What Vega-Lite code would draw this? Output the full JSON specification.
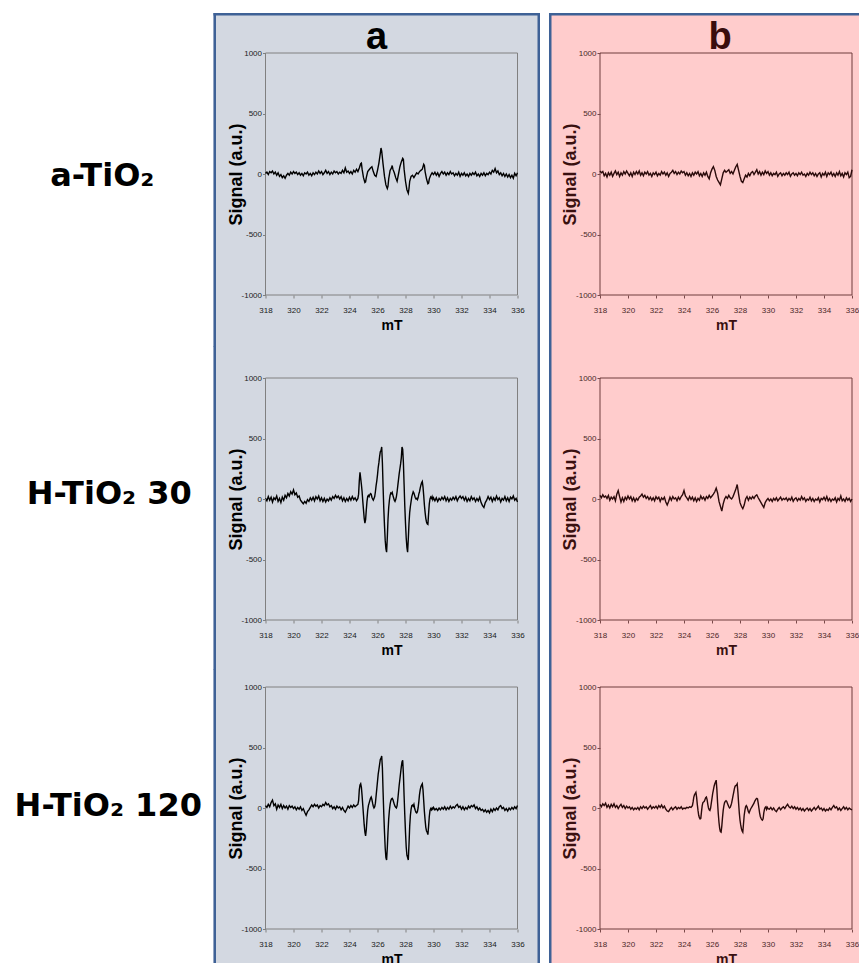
{
"$schema": "https://vega.github.io/schema/vega-lite/v6.json",
"background": "#ffffff",
"padding": {"left": 0, "top": 12, "right": 0, "bottom": 0},
"config": {
  "view": {"stroke": null},
  "axis": {"zindex": 1, "domain": false, "grid": false, "labelFont": "Liberation Sans", "labelFontSize": 8, "tickSize": 3, "labelFlush": false, "labelOverlap": false, "labelSeparation": 0, "titleFont": "Liberation Sans", "titleFontWeight": "bold"},
  "axisX": {"labelPadding": 8, "titleFontSize": 14, "titlePadding": 4, "labelOverlap": false},
  "axisY": {"labelPadding": 1, "titleFontSize": 18, "titlePadding": -4}
},
"datasets": {
"a1": [{"x":318,"y":5},{"x":318.1,"y":15},{"x":318.2,"y":-5},{"x":318.3,"y":20},{"x":318.4,"y":10},{"x":318.5,"y":25},{"x":318.6,"y":0},{"x":318.7,"y":15},{"x":318.8,"y":-10},{"x":318.9,"y":10},{"x":319,"y":-20},{"x":319.1,"y":-5},{"x":319.2,"y":-30},{"x":319.3,"y":-15},{"x":319.4,"y":-35},{"x":319.5,"y":-10},{"x":319.6,"y":5},{"x":319.7,"y":-10},{"x":319.8,"y":15},{"x":319.9,"y":0},{"x":320,"y":20},{"x":320.1,"y":5},{"x":320.2,"y":15},{"x":320.3,"y":-5},{"x":320.4,"y":10},{"x":320.5,"y":-10},{"x":320.6,"y":5},{"x":320.7,"y":-15},{"x":320.8,"y":10},{"x":320.9,"y":0},{"x":321,"y":15},{"x":321.1,"y":-10},{"x":321.2,"y":5},{"x":321.3,"y":-15},{"x":321.4,"y":10},{"x":321.5,"y":-5},{"x":321.6,"y":15},{"x":321.7,"y":0},{"x":321.8,"y":25},{"x":321.9,"y":5},{"x":322,"y":20},{"x":322.1,"y":-5},{"x":322.2,"y":10},{"x":322.3,"y":30},{"x":322.4,"y":5},{"x":322.5,"y":20},{"x":322.6,"y":-5},{"x":322.7,"y":15},{"x":322.8,"y":0},{"x":322.9,"y":25},{"x":323,"y":10},{"x":323.1,"y":20},{"x":323.2,"y":0},{"x":323.3,"y":15},{"x":323.4,"y":5},{"x":323.5,"y":30},{"x":323.6,"y":10},{"x":323.7,"y":50},{"x":323.8,"y":15},{"x":323.9,"y":25},{"x":324,"y":5},{"x":324.1,"y":20},{"x":324.2,"y":0},{"x":324.3,"y":30},{"x":324.4,"y":15},{"x":324.5,"y":40},{"x":324.6,"y":20},{"x":324.7,"y":50},{"x":324.8,"y":85},{"x":324.85,"y":90},{"x":324.9,"y":40},{"x":325,"y":-30},{"x":325.1,"y":-70},{"x":325.15,"y":-65},{"x":325.2,"y":-30},{"x":325.3,"y":20},{"x":325.4,"y":35},{"x":325.5,"y":50},{"x":325.6,"y":60},{"x":325.7,"y":20},{"x":325.8,"y":-10},{"x":325.9,"y":-20},{"x":326,"y":30},{"x":326.1,"y":90},{"x":326.2,"y":170},{"x":326.25,"y":215},{"x":326.3,"y":190},{"x":326.4,"y":80},{"x":326.5,"y":-20},{"x":326.6,"y":-90},{"x":326.7,"y":-120},{"x":326.75,"y":-100},{"x":326.8,"y":-40},{"x":326.9,"y":30},{"x":327,"y":50},{"x":327.05,"y":70},{"x":327.1,"y":40},{"x":327.2,"y":10},{"x":327.3,"y":-30},{"x":327.4,"y":-60},{"x":327.5,"y":0},{"x":327.6,"y":60},{"x":327.7,"y":100},{"x":327.8,"y":130},{"x":327.85,"y":120},{"x":327.9,"y":40},{"x":328,"y":-60},{"x":328.1,"y":-130},{"x":328.2,"y":-160},{"x":328.25,"y":-120},{"x":328.3,"y":-60},{"x":328.4,"y":-20},{"x":328.5,"y":-10},{"x":328.6,"y":-30},{"x":328.7,"y":-10},{"x":328.8,"y":10},{"x":328.9,"y":0},{"x":329,"y":20},{"x":329.1,"y":30},{"x":329.2,"y":40},{"x":329.3,"y":80},{"x":329.35,"y":70},{"x":329.4,"y":20},{"x":329.5,"y":-40},{"x":329.6,"y":-80},{"x":329.65,"y":-75},{"x":329.7,"y":-40},{"x":329.8,"y":-10},{"x":329.9,"y":10},{"x":330,"y":-5},{"x":330.1,"y":15},{"x":330.2,"y":-10},{"x":330.3,"y":10},{"x":330.4,"y":-20},{"x":330.5,"y":5},{"x":330.6,"y":20},{"x":330.7,"y":0},{"x":330.8,"y":15},{"x":330.9,"y":-10},{"x":331,"y":10},{"x":331.1,"y":-5},{"x":331.2,"y":20},{"x":331.3,"y":0},{"x":331.4,"y":10},{"x":331.5,"y":-15},{"x":331.6,"y":5},{"x":331.7,"y":-10},{"x":331.8,"y":15},{"x":331.9,"y":-20},{"x":332,"y":5},{"x":332.1,"y":-10},{"x":332.2,"y":10},{"x":332.3,"y":-15},{"x":332.4,"y":0},{"x":332.5,"y":-20},{"x":332.6,"y":5},{"x":332.7,"y":-10},{"x":332.8,"y":10},{"x":332.9,"y":-5},{"x":333,"y":15},{"x":333.1,"y":-15},{"x":333.2,"y":0},{"x":333.3,"y":-20},{"x":333.4,"y":5},{"x":333.5,"y":-10},{"x":333.6,"y":10},{"x":333.7,"y":-15},{"x":333.8,"y":5},{"x":333.9,"y":-5},{"x":334,"y":15},{"x":334.1,"y":0},{"x":334.2,"y":30},{"x":334.3,"y":15},{"x":334.4,"y":45},{"x":334.5,"y":10},{"x":334.6,"y":25},{"x":334.7,"y":-5},{"x":334.8,"y":10},{"x":334.9,"y":-15},{"x":335,"y":5},{"x":335.1,"y":-20},{"x":335.2,"y":0},{"x":335.3,"y":-25},{"x":335.4,"y":-5},{"x":335.5,"y":-30},{"x":335.6,"y":-10},{"x":335.7,"y":-35},{"x":335.8,"y":5},{"x":335.9,"y":-15},{"x":336,"y":10}],
"a2": [{"x":318,"y":5},{"x":318.1,"y":-15},{"x":318.2,"y":20},{"x":318.3,"y":-10},{"x":318.4,"y":15},{"x":318.5,"y":-25},{"x":318.6,"y":10},{"x":318.7,"y":-5},{"x":318.8,"y":25},{"x":318.9,"y":-20},{"x":319,"y":5},{"x":319.1,"y":-30},{"x":319.2,"y":15},{"x":319.3,"y":-10},{"x":319.4,"y":30},{"x":319.5,"y":10},{"x":319.6,"y":45},{"x":319.7,"y":25},{"x":319.8,"y":60},{"x":319.9,"y":40},{"x":320,"y":75},{"x":320.1,"y":35},{"x":320.2,"y":50},{"x":320.3,"y":15},{"x":320.4,"y":25},{"x":320.5,"y":-10},{"x":320.6,"y":-25},{"x":320.7,"y":-40},{"x":320.8,"y":-20},{"x":320.9,"y":-35},{"x":321,"y":-5},{"x":321.1,"y":-20},{"x":321.2,"y":10},{"x":321.3,"y":-10},{"x":321.4,"y":15},{"x":321.5,"y":-15},{"x":321.6,"y":20},{"x":321.7,"y":0},{"x":321.8,"y":25},{"x":321.9,"y":-15},{"x":322,"y":10},{"x":322.1,"y":-20},{"x":322.2,"y":5},{"x":322.3,"y":-25},{"x":322.4,"y":0},{"x":322.5,"y":-15},{"x":322.6,"y":10},{"x":322.7,"y":-10},{"x":322.8,"y":20},{"x":322.9,"y":5},{"x":323,"y":30},{"x":323.1,"y":10},{"x":323.2,"y":25},{"x":323.3,"y":0},{"x":323.4,"y":20},{"x":323.5,"y":-15},{"x":323.6,"y":10},{"x":323.7,"y":-20},{"x":323.8,"y":5},{"x":323.9,"y":-15},{"x":324,"y":15},{"x":324.1,"y":-10},{"x":324.2,"y":20},{"x":324.3,"y":-5},{"x":324.4,"y":10},{"x":324.5,"y":-15},{"x":324.6,"y":5},{"x":324.65,"y":40},{"x":324.7,"y":150},{"x":324.75,"y":220},{"x":324.8,"y":170},{"x":324.85,"y":120},{"x":324.9,"y":60},{"x":324.95,"y":-20},{"x":325,"y":-90},{"x":325.05,"y":-160},{"x":325.1,"y":-200},{"x":325.15,"y":-170},{"x":325.2,"y":-90},{"x":325.25,"y":-20},{"x":325.3,"y":20},{"x":325.35,"y":30},{"x":325.4,"y":20},{"x":325.45,"y":35},{"x":325.5,"y":45},{"x":325.55,"y":40},{"x":325.6,"y":15},{"x":325.65,"y":0},{"x":325.7,"y":-10},{"x":325.75,"y":5},{"x":325.8,"y":20},{"x":325.85,"y":60},{"x":325.9,"y":110},{"x":325.95,"y":150},{"x":326,"y":200},{"x":326.05,"y":260},{"x":326.1,"y":300},{"x":326.15,"y":350},{"x":326.2,"y":390},{"x":326.25,"y":400},{"x":326.3,"y":430},{"x":326.35,"y":300},{"x":326.4,"y":100},{"x":326.45,"y":-80},{"x":326.5,"y":-220},{"x":326.55,"y":-340},{"x":326.6,"y":-410},{"x":326.65,"y":-440},{"x":326.7,"y":-320},{"x":326.75,"y":-170},{"x":326.8,"y":-70},{"x":326.85,"y":-10},{"x":326.9,"y":30},{"x":326.95,"y":50},{"x":327,"y":45},{"x":327.05,"y":55},{"x":327.1,"y":30},{"x":327.15,"y":10},{"x":327.2,"y":-10},{"x":327.25,"y":-20},{"x":327.3,"y":-5},{"x":327.35,"y":20},{"x":327.4,"y":60},{"x":327.45,"y":110},{"x":327.5,"y":160},{"x":327.55,"y":210},{"x":327.6,"y":250},{"x":327.65,"y":290},{"x":327.7,"y":340},{"x":327.75,"y":430},{"x":327.8,"y":410},{"x":327.85,"y":300},{"x":327.9,"y":120},{"x":327.95,"y":-60},{"x":328,"y":-200},{"x":328.05,"y":-320},{"x":328.1,"y":-400},{"x":328.15,"y":-440},{"x":328.2,"y":-330},{"x":328.25,"y":-200},{"x":328.3,"y":-110},{"x":328.35,"y":-60},{"x":328.4,"y":-20},{"x":328.45,"y":20},{"x":328.5,"y":40},{"x":328.55,"y":60},{"x":328.6,"y":50},{"x":328.65,"y":30},{"x":328.7,"y":10},{"x":328.75,"y":0},{"x":328.8,"y":5},{"x":328.85,"y":-5},{"x":328.9,"y":10},{"x":328.95,"y":40},{"x":329,"y":60},{"x":329.05,"y":90},{"x":329.1,"y":115},{"x":329.15,"y":135},{"x":329.2,"y":145},{"x":329.25,"y":100},{"x":329.3,"y":30},{"x":329.35,"y":-50},{"x":329.4,"y":-110},{"x":329.45,"y":-160},{"x":329.5,"y":-190},{"x":329.55,"y":-205},{"x":329.6,"y":-210},{"x":329.65,"y":-120},{"x":329.7,"y":-40},{"x":329.75,"y":0},{"x":329.8,"y":15},{"x":329.85,"y":5},{"x":329.9,"y":20},{"x":329.95,"y":-5},{"x":330,"y":10},{"x":330.1,"y":-15},{"x":330.2,"y":10},{"x":330.3,"y":-20},{"x":330.4,"y":5},{"x":330.5,"y":-10},{"x":330.6,"y":15},{"x":330.7,"y":-5},{"x":330.8,"y":20},{"x":330.9,"y":-15},{"x":331,"y":10},{"x":331.1,"y":-20},{"x":331.2,"y":5},{"x":331.3,"y":-10},{"x":331.4,"y":15},{"x":331.5,"y":-5},{"x":331.6,"y":20},{"x":331.7,"y":-15},{"x":331.8,"y":10},{"x":331.9,"y":25},{"x":332,"y":5},{"x":332.1,"y":20},{"x":332.2,"y":-10},{"x":332.3,"y":15},{"x":332.4,"y":-20},{"x":332.5,"y":5},{"x":332.6,"y":-15},{"x":332.7,"y":20},{"x":332.8,"y":-5},{"x":332.9,"y":10},{"x":333,"y":-20},{"x":333.1,"y":5},{"x":333.2,"y":-15},{"x":333.3,"y":15},{"x":333.4,"y":-30},{"x":333.5,"y":-55},{"x":333.6,"y":-70},{"x":333.7,"y":-30},{"x":333.8,"y":-10},{"x":333.9,"y":20},{"x":334,"y":-5},{"x":334.1,"y":15},{"x":334.2,"y":-20},{"x":334.3,"y":10},{"x":334.4,"y":-10},{"x":334.5,"y":25},{"x":334.6,"y":-5},{"x":334.7,"y":10},{"x":334.8,"y":-25},{"x":334.9,"y":5},{"x":335,"y":-10},{"x":335.1,"y":20},{"x":335.2,"y":-15},{"x":335.3,"y":10},{"x":335.4,"y":-20},{"x":335.5,"y":15},{"x":335.6,"y":0},{"x":335.7,"y":25},{"x":335.8,"y":-10},{"x":335.9,"y":5},{"x":336,"y":-25}],
"a3": [{"x":318,"y":20},{"x":318.1,"y":5},{"x":318.2,"y":30},{"x":318.3,"y":10},{"x":318.4,"y":45},{"x":318.5,"y":65},{"x":318.6,"y":20},{"x":318.7,"y":35},{"x":318.8,"y":-10},{"x":318.9,"y":25},{"x":319,"y":5},{"x":319.1,"y":30},{"x":319.2,"y":-5},{"x":319.3,"y":20},{"x":319.4,"y":0},{"x":319.5,"y":15},{"x":319.6,"y":-10},{"x":319.7,"y":20},{"x":319.8,"y":5},{"x":319.9,"y":15},{"x":320,"y":-5},{"x":320.1,"y":10},{"x":320.2,"y":-15},{"x":320.3,"y":5},{"x":320.4,"y":-10},{"x":320.5,"y":10},{"x":320.6,"y":-20},{"x":320.7,"y":-5},{"x":320.8,"y":-35},{"x":320.9,"y":-60},{"x":321,"y":-30},{"x":321.1,"y":-15},{"x":321.2,"y":5},{"x":321.3,"y":25},{"x":321.4,"y":10},{"x":321.5,"y":30},{"x":321.6,"y":15},{"x":321.7,"y":25},{"x":321.8,"y":0},{"x":321.9,"y":20},{"x":322,"y":10},{"x":322.1,"y":30},{"x":322.2,"y":20},{"x":322.3,"y":45},{"x":322.4,"y":25},{"x":322.5,"y":35},{"x":322.6,"y":10},{"x":322.7,"y":20},{"x":322.8,"y":-5},{"x":322.9,"y":10},{"x":323,"y":-10},{"x":323.1,"y":15},{"x":323.2,"y":0},{"x":323.3,"y":10},{"x":323.4,"y":-15},{"x":323.5,"y":5},{"x":323.6,"y":-20},{"x":323.7,"y":-35},{"x":323.8,"y":-10},{"x":323.9,"y":15},{"x":324,"y":0},{"x":324.1,"y":20},{"x":324.2,"y":5},{"x":324.3,"y":25},{"x":324.4,"y":10},{"x":324.5,"y":20},{"x":324.6,"y":30},{"x":324.65,"y":60},{"x":324.7,"y":150},{"x":324.75,"y":190},{"x":324.8,"y":200},{"x":324.85,"y":170},{"x":324.9,"y":100},{"x":324.95,"y":20},{"x":325,"y":-60},{"x":325.05,"y":-140},{"x":325.1,"y":-200},{"x":325.15,"y":-230},{"x":325.2,"y":-180},{"x":325.25,"y":-90},{"x":325.3,"y":-20},{"x":325.35,"y":20},{"x":325.4,"y":40},{"x":325.45,"y":60},{"x":325.5,"y":80},{"x":325.55,"y":90},{"x":325.6,"y":70},{"x":325.65,"y":40},{"x":325.7,"y":15},{"x":325.75,"y":0},{"x":325.8,"y":10},{"x":325.85,"y":40},{"x":325.9,"y":100},{"x":325.95,"y":160},{"x":326,"y":220},{"x":326.05,"y":280},{"x":326.1,"y":320},{"x":326.15,"y":360},{"x":326.2,"y":400},{"x":326.25,"y":410},{"x":326.3,"y":430},{"x":326.35,"y":330},{"x":326.4,"y":130},{"x":326.45,"y":-50},{"x":326.5,"y":-200},{"x":326.55,"y":-330},{"x":326.6,"y":-410},{"x":326.65,"y":-430},{"x":326.7,"y":-330},{"x":326.75,"y":-200},{"x":326.8,"y":-90},{"x":326.85,"y":-20},{"x":326.9,"y":30},{"x":326.95,"y":60},{"x":327,"y":75},{"x":327.05,"y":80},{"x":327.1,"y":70},{"x":327.15,"y":50},{"x":327.2,"y":30},{"x":327.25,"y":15},{"x":327.3,"y":5},{"x":327.35,"y":0},{"x":327.4,"y":20},{"x":327.45,"y":70},{"x":327.5,"y":130},{"x":327.55,"y":190},{"x":327.6,"y":240},{"x":327.65,"y":290},{"x":327.7,"y":340},{"x":327.75,"y":380},{"x":327.8,"y":395},{"x":327.85,"y":280},{"x":327.9,"y":100},{"x":327.95,"y":-60},{"x":328,"y":-200},{"x":328.05,"y":-320},{"x":328.1,"y":-390},{"x":328.15,"y":-410},{"x":328.2,"y":-430},{"x":328.25,"y":-300},{"x":328.3,"y":-150},{"x":328.35,"y":-60},{"x":328.4,"y":-10},{"x":328.45,"y":20},{"x":328.5,"y":25},{"x":328.55,"y":15},{"x":328.6,"y":30},{"x":328.65,"y":0},{"x":328.7,"y":-20},{"x":328.75,"y":-35},{"x":328.8,"y":-40},{"x":328.85,"y":-30},{"x":328.9,"y":0},{"x":328.95,"y":50},{"x":329,"y":110},{"x":329.05,"y":150},{"x":329.1,"y":175},{"x":329.15,"y":190},{"x":329.2,"y":200},{"x":329.25,"y":150},{"x":329.3,"y":60},{"x":329.35,"y":-30},{"x":329.4,"y":-100},{"x":329.45,"y":-160},{"x":329.5,"y":-190},{"x":329.55,"y":-200},{"x":329.6,"y":-220},{"x":329.65,"y":-150},{"x":329.7,"y":-70},{"x":329.75,"y":-20},{"x":329.8,"y":-5},{"x":329.85,"y":-15},{"x":329.9,"y":0},{"x":329.95,"y":-10},{"x":330,"y":5},{"x":330.1,"y":-15},{"x":330.2,"y":-5},{"x":330.3,"y":-20},{"x":330.4,"y":0},{"x":330.5,"y":-15},{"x":330.6,"y":5},{"x":330.7,"y":-10},{"x":330.8,"y":10},{"x":330.9,"y":-15},{"x":331,"y":5},{"x":331.1,"y":-10},{"x":331.2,"y":15},{"x":331.3,"y":-5},{"x":331.4,"y":10},{"x":331.5,"y":0},{"x":331.6,"y":20},{"x":331.7,"y":30},{"x":331.8,"y":5},{"x":331.9,"y":15},{"x":332,"y":-10},{"x":332.1,"y":10},{"x":332.2,"y":-15},{"x":332.3,"y":5},{"x":332.4,"y":-10},{"x":332.5,"y":15},{"x":332.6,"y":0},{"x":332.7,"y":20},{"x":332.8,"y":10},{"x":332.9,"y":25},{"x":333,"y":-5},{"x":333.1,"y":10},{"x":333.2,"y":-15},{"x":333.3,"y":0},{"x":333.4,"y":-20},{"x":333.5,"y":-10},{"x":333.6,"y":-30},{"x":333.7,"y":-15},{"x":333.8,"y":-35},{"x":333.9,"y":-20},{"x":334,"y":-40},{"x":334.1,"y":-10},{"x":334.2,"y":-30},{"x":334.3,"y":-5},{"x":334.4,"y":-20},{"x":334.5,"y":0},{"x":334.6,"y":-15},{"x":334.7,"y":10},{"x":334.8,"y":20},{"x":334.9,"y":-5},{"x":335,"y":5},{"x":335.1,"y":-20},{"x":335.2,"y":-5},{"x":335.3,"y":-25},{"x":335.4,"y":0},{"x":335.5,"y":-15},{"x":335.6,"y":5},{"x":335.7,"y":-10},{"x":335.8,"y":10},{"x":335.9,"y":-5},{"x":336,"y":20}],
"b1": [{"x":318,"y":25},{"x":318.1,"y":10},{"x":318.2,"y":20},{"x":318.3,"y":-15},{"x":318.4,"y":5},{"x":318.5,"y":-25},{"x":318.6,"y":10},{"x":318.7,"y":-10},{"x":318.8,"y":15},{"x":318.9,"y":-20},{"x":319,"y":5},{"x":319.1,"y":25},{"x":319.2,"y":-5},{"x":319.3,"y":15},{"x":319.4,"y":-20},{"x":319.5,"y":10},{"x":319.6,"y":-10},{"x":319.7,"y":20},{"x":319.8,"y":0},{"x":319.9,"y":25},{"x":320,"y":5},{"x":320.1,"y":-15},{"x":320.2,"y":10},{"x":320.3,"y":-20},{"x":320.4,"y":15},{"x":320.5,"y":-5},{"x":320.6,"y":20},{"x":320.7,"y":0},{"x":320.8,"y":25},{"x":320.9,"y":-10},{"x":321,"y":10},{"x":321.1,"y":-15},{"x":321.2,"y":15},{"x":321.3,"y":0},{"x":321.4,"y":20},{"x":321.5,"y":-10},{"x":321.6,"y":5},{"x":321.7,"y":-20},{"x":321.8,"y":10},{"x":321.9,"y":-5},{"x":322,"y":15},{"x":322.1,"y":-15},{"x":322.2,"y":5},{"x":322.3,"y":-10},{"x":322.4,"y":20},{"x":322.5,"y":0},{"x":322.6,"y":15},{"x":322.7,"y":-10},{"x":322.8,"y":10},{"x":322.9,"y":-20},{"x":323,"y":5},{"x":323.1,"y":15},{"x":323.2,"y":30},{"x":323.3,"y":5},{"x":323.4,"y":20},{"x":323.5,"y":-5},{"x":323.6,"y":15},{"x":323.7,"y":0},{"x":323.8,"y":25},{"x":323.9,"y":10},{"x":324,"y":20},{"x":324.1,"y":-10},{"x":324.2,"y":10},{"x":324.3,"y":-15},{"x":324.4,"y":5},{"x":324.5,"y":-20},{"x":324.6,"y":10},{"x":324.7,"y":-10},{"x":324.8,"y":15},{"x":324.9,"y":0},{"x":325,"y":20},{"x":325.1,"y":-15},{"x":325.2,"y":5},{"x":325.3,"y":-20},{"x":325.4,"y":10},{"x":325.5,"y":-10},{"x":325.6,"y":15},{"x":325.7,"y":-20},{"x":325.8,"y":-40},{"x":325.9,"y":10},{"x":326,"y":40},{"x":326.1,"y":60},{"x":326.2,"y":30},{"x":326.3,"y":-20},{"x":326.4,"y":-50},{"x":326.5,"y":-70},{"x":326.6,"y":-90},{"x":326.7,"y":-40},{"x":326.8,"y":10},{"x":326.9,"y":30},{"x":327,"y":15},{"x":327.1,"y":25},{"x":327.2,"y":35},{"x":327.3,"y":5},{"x":327.4,"y":20},{"x":327.5,"y":0},{"x":327.6,"y":30},{"x":327.7,"y":60},{"x":327.8,"y":80},{"x":327.9,"y":30},{"x":328,"y":-20},{"x":328.1,"y":-60},{"x":328.2,"y":-70},{"x":328.3,"y":-40},{"x":328.4,"y":-10},{"x":328.5,"y":-25},{"x":328.6,"y":5},{"x":328.7,"y":-15},{"x":328.8,"y":10},{"x":328.9,"y":20},{"x":329,"y":-5},{"x":329.1,"y":15},{"x":329.2,"y":35},{"x":329.3,"y":0},{"x":329.4,"y":20},{"x":329.5,"y":-10},{"x":329.6,"y":15},{"x":329.7,"y":-5},{"x":329.8,"y":25},{"x":329.9,"y":5},{"x":330,"y":20},{"x":330.1,"y":-10},{"x":330.2,"y":10},{"x":330.3,"y":-15},{"x":330.4,"y":5},{"x":330.5,"y":-5},{"x":330.6,"y":15},{"x":330.7,"y":-20},{"x":330.8,"y":0},{"x":330.9,"y":10},{"x":331,"y":-15},{"x":331.1,"y":5},{"x":331.2,"y":-10},{"x":331.3,"y":10},{"x":331.4,"y":-5},{"x":331.5,"y":15},{"x":331.6,"y":-20},{"x":331.7,"y":0},{"x":331.8,"y":10},{"x":331.9,"y":-10},{"x":332,"y":5},{"x":332.1,"y":-15},{"x":332.2,"y":10},{"x":332.3,"y":-5},{"x":332.4,"y":15},{"x":332.5,"y":-10},{"x":332.6,"y":0},{"x":332.7,"y":-20},{"x":332.8,"y":5},{"x":332.9,"y":-10},{"x":333,"y":15},{"x":333.1,"y":-5},{"x":333.2,"y":10},{"x":333.3,"y":-15},{"x":333.4,"y":5},{"x":333.5,"y":-20},{"x":333.6,"y":0},{"x":333.7,"y":10},{"x":333.8,"y":-25},{"x":333.9,"y":5},{"x":334,"y":-10},{"x":334.1,"y":15},{"x":334.2,"y":-20},{"x":334.3,"y":10},{"x":334.4,"y":-5},{"x":334.5,"y":15},{"x":334.6,"y":-15},{"x":334.7,"y":5},{"x":334.8,"y":-20},{"x":334.9,"y":10},{"x":335,"y":-10},{"x":335.1,"y":20},{"x":335.2,"y":-15},{"x":335.3,"y":5},{"x":335.4,"y":-25},{"x":335.5,"y":10},{"x":335.6,"y":-5},{"x":335.7,"y":15},{"x":335.8,"y":-30},{"x":335.9,"y":-20},{"x":336,"y":35}],
"b2": [{"x":318,"y":30},{"x":318.1,"y":10},{"x":318.2,"y":35},{"x":318.3,"y":15},{"x":318.4,"y":25},{"x":318.5,"y":5},{"x":318.6,"y":30},{"x":318.7,"y":-10},{"x":318.8,"y":15},{"x":318.9,"y":0},{"x":319,"y":20},{"x":319.1,"y":-15},{"x":319.2,"y":40},{"x":319.3,"y":70},{"x":319.4,"y":20},{"x":319.5,"y":-25},{"x":319.6,"y":10},{"x":319.7,"y":-20},{"x":319.8,"y":15},{"x":319.9,"y":-5},{"x":320,"y":25},{"x":320.1,"y":0},{"x":320.2,"y":20},{"x":320.3,"y":-15},{"x":320.4,"y":10},{"x":320.5,"y":-20},{"x":320.6,"y":5},{"x":320.7,"y":-10},{"x":320.8,"y":15},{"x":320.9,"y":25},{"x":321,"y":40},{"x":321.1,"y":15},{"x":321.2,"y":30},{"x":321.3,"y":5},{"x":321.4,"y":20},{"x":321.5,"y":-5},{"x":321.6,"y":15},{"x":321.7,"y":-10},{"x":321.8,"y":10},{"x":321.9,"y":-15},{"x":322,"y":20},{"x":322.1,"y":0},{"x":322.2,"y":15},{"x":322.3,"y":-20},{"x":322.4,"y":10},{"x":322.5,"y":-5},{"x":322.6,"y":15},{"x":322.7,"y":-25},{"x":322.8,"y":-50},{"x":322.9,"y":-20},{"x":323,"y":15},{"x":323.1,"y":-10},{"x":323.2,"y":20},{"x":323.3,"y":0},{"x":323.4,"y":10},{"x":323.5,"y":-15},{"x":323.6,"y":15},{"x":323.7,"y":-5},{"x":323.8,"y":20},{"x":323.9,"y":35},{"x":324,"y":70},{"x":324.1,"y":25},{"x":324.2,"y":10},{"x":324.3,"y":-10},{"x":324.4,"y":20},{"x":324.5,"y":-5},{"x":324.6,"y":15},{"x":324.7,"y":-15},{"x":324.8,"y":10},{"x":324.9,"y":-20},{"x":325,"y":5},{"x":325.1,"y":-10},{"x":325.2,"y":25},{"x":325.3,"y":0},{"x":325.4,"y":15},{"x":325.5,"y":-10},{"x":325.6,"y":20},{"x":325.7,"y":5},{"x":325.8,"y":30},{"x":325.9,"y":10},{"x":326,"y":25},{"x":326.1,"y":40},{"x":326.2,"y":60},{"x":326.3,"y":90},{"x":326.4,"y":50},{"x":326.5,"y":-20},{"x":326.6,"y":-60},{"x":326.7,"y":-100},{"x":326.8,"y":-40},{"x":326.9,"y":0},{"x":327,"y":20},{"x":327.1,"y":5},{"x":327.2,"y":30},{"x":327.3,"y":10},{"x":327.4,"y":0},{"x":327.5,"y":20},{"x":327.6,"y":50},{"x":327.7,"y":80},{"x":327.8,"y":120},{"x":327.9,"y":40},{"x":328,"y":-30},{"x":328.1,"y":-60},{"x":328.2,"y":-80},{"x":328.3,"y":-50},{"x":328.4,"y":0},{"x":328.5,"y":20},{"x":328.6,"y":-10},{"x":328.7,"y":15},{"x":328.8,"y":0},{"x":328.9,"y":20},{"x":329,"y":5},{"x":329.1,"y":25},{"x":329.2,"y":35},{"x":329.3,"y":10},{"x":329.4,"y":-10},{"x":329.5,"y":-30},{"x":329.6,"y":-50},{"x":329.7,"y":-70},{"x":329.8,"y":-30},{"x":329.9,"y":-10},{"x":330,"y":5},{"x":330.1,"y":-15},{"x":330.2,"y":0},{"x":330.3,"y":-20},{"x":330.4,"y":5},{"x":330.5,"y":-10},{"x":330.6,"y":10},{"x":330.7,"y":-15},{"x":330.8,"y":0},{"x":330.9,"y":15},{"x":331,"y":-10},{"x":331.1,"y":5},{"x":331.2,"y":-5},{"x":331.3,"y":10},{"x":331.4,"y":-15},{"x":331.5,"y":5},{"x":331.6,"y":-10},{"x":331.7,"y":15},{"x":331.8,"y":-20},{"x":331.9,"y":0},{"x":332,"y":10},{"x":332.1,"y":-15},{"x":332.2,"y":5},{"x":332.3,"y":-10},{"x":332.4,"y":20},{"x":332.5,"y":-5},{"x":332.6,"y":10},{"x":332.7,"y":-20},{"x":332.8,"y":0},{"x":332.9,"y":-10},{"x":333,"y":15},{"x":333.1,"y":-15},{"x":333.2,"y":5},{"x":333.3,"y":-20},{"x":333.4,"y":0},{"x":333.5,"y":-10},{"x":333.6,"y":10},{"x":333.7,"y":-25},{"x":333.8,"y":5},{"x":333.9,"y":-5},{"x":334,"y":15},{"x":334.1,"y":-10},{"x":334.2,"y":20},{"x":334.3,"y":-15},{"x":334.4,"y":5},{"x":334.5,"y":-20},{"x":334.6,"y":0},{"x":334.7,"y":-10},{"x":334.8,"y":10},{"x":334.9,"y":-25},{"x":335,"y":5},{"x":335.1,"y":-10},{"x":335.2,"y":25},{"x":335.3,"y":-15},{"x":335.4,"y":0},{"x":335.5,"y":-20},{"x":335.6,"y":10},{"x":335.7,"y":-10},{"x":335.8,"y":5},{"x":335.9,"y":-20},{"x":336,"y":0}],
"b3": [{"x":318,"y":30},{"x":318.1,"y":10},{"x":318.2,"y":35},{"x":318.3,"y":20},{"x":318.4,"y":40},{"x":318.5,"y":5},{"x":318.6,"y":25},{"x":318.7,"y":0},{"x":318.8,"y":30},{"x":318.9,"y":10},{"x":319,"y":35},{"x":319.1,"y":5},{"x":319.2,"y":20},{"x":319.3,"y":-5},{"x":319.4,"y":15},{"x":319.5,"y":30},{"x":319.6,"y":5},{"x":319.7,"y":20},{"x":319.8,"y":-5},{"x":319.9,"y":15},{"x":320,"y":0},{"x":320.1,"y":10},{"x":320.2,"y":-10},{"x":320.3,"y":5},{"x":320.4,"y":-15},{"x":320.5,"y":0},{"x":320.6,"y":-10},{"x":320.7,"y":5},{"x":320.8,"y":-15},{"x":320.9,"y":10},{"x":321,"y":-5},{"x":321.1,"y":15},{"x":321.2,"y":0},{"x":321.3,"y":10},{"x":321.4,"y":-10},{"x":321.5,"y":5},{"x":321.6,"y":20},{"x":321.7,"y":-5},{"x":321.8,"y":10},{"x":321.9,"y":0},{"x":322,"y":15},{"x":322.1,"y":-5},{"x":322.2,"y":20},{"x":322.3,"y":5},{"x":322.4,"y":25},{"x":322.5,"y":0},{"x":322.6,"y":15},{"x":322.7,"y":-10},{"x":322.8,"y":-25},{"x":322.9,"y":-30},{"x":323,"y":-10},{"x":323.1,"y":5},{"x":323.2,"y":-15},{"x":323.3,"y":0},{"x":323.4,"y":10},{"x":323.5,"y":-10},{"x":323.6,"y":5},{"x":323.7,"y":-5},{"x":323.8,"y":10},{"x":323.9,"y":-10},{"x":324,"y":0},{"x":324.1,"y":-5},{"x":324.2,"y":5},{"x":324.3,"y":0},{"x":324.4,"y":10},{"x":324.5,"y":5},{"x":324.6,"y":20},{"x":324.65,"y":50},{"x":324.7,"y":90},{"x":324.75,"y":110},{"x":324.8,"y":120},{"x":324.85,"y":130},{"x":324.9,"y":90},{"x":324.95,"y":30},{"x":325,"y":-20},{"x":325.05,"y":-60},{"x":325.1,"y":-80},{"x":325.15,"y":-90},{"x":325.2,"y":-85},{"x":325.25,"y":-30},{"x":325.3,"y":20},{"x":325.35,"y":45},{"x":325.4,"y":50},{"x":325.45,"y":55},{"x":325.5,"y":70},{"x":325.55,"y":85},{"x":325.6,"y":90},{"x":325.65,"y":70},{"x":325.7,"y":30},{"x":325.75,"y":0},{"x":325.8,"y":-15},{"x":325.85,"y":-20},{"x":325.9,"y":0},{"x":325.95,"y":40},{"x":326,"y":80},{"x":326.05,"y":120},{"x":326.1,"y":150},{"x":326.15,"y":180},{"x":326.2,"y":200},{"x":326.25,"y":215},{"x":326.3,"y":230},{"x":326.35,"y":150},{"x":326.4,"y":40},{"x":326.45,"y":-50},{"x":326.5,"y":-120},{"x":326.55,"y":-170},{"x":326.6,"y":-195},{"x":326.65,"y":-200},{"x":326.7,"y":-150},{"x":326.75,"y":-80},{"x":326.8,"y":-20},{"x":326.85,"y":20},{"x":326.9,"y":45},{"x":326.95,"y":55},{"x":327,"y":60},{"x":327.05,"y":55},{"x":327.1,"y":40},{"x":327.15,"y":25},{"x":327.2,"y":10},{"x":327.25,"y":0},{"x":327.3,"y":5},{"x":327.35,"y":20},{"x":327.4,"y":40},{"x":327.45,"y":70},{"x":327.5,"y":100},{"x":327.55,"y":130},{"x":327.6,"y":160},{"x":327.65,"y":180},{"x":327.7,"y":185},{"x":327.75,"y":190},{"x":327.8,"y":200},{"x":327.85,"y":130},{"x":327.9,"y":40},{"x":327.95,"y":-40},{"x":328,"y":-100},{"x":328.05,"y":-140},{"x":328.1,"y":-170},{"x":328.15,"y":-190},{"x":328.2,"y":-200},{"x":328.25,"y":-130},{"x":328.3,"y":-60},{"x":328.35,"y":-20},{"x":328.4,"y":10},{"x":328.45,"y":20},{"x":328.5,"y":10},{"x":328.55,"y":-10},{"x":328.6,"y":-30},{"x":328.65,"y":-40},{"x":328.7,"y":-25},{"x":328.75,"y":-10},{"x":328.8,"y":0},{"x":328.85,"y":10},{"x":328.9,"y":20},{"x":328.95,"y":30},{"x":329,"y":40},{"x":329.05,"y":55},{"x":329.1,"y":65},{"x":329.15,"y":75},{"x":329.2,"y":80},{"x":329.25,"y":75},{"x":329.3,"y":40},{"x":329.35,"y":0},{"x":329.4,"y":-40},{"x":329.45,"y":-70},{"x":329.5,"y":-85},{"x":329.55,"y":-95},{"x":329.6,"y":-100},{"x":329.65,"y":-90},{"x":329.7,"y":-40},{"x":329.75,"y":-10},{"x":329.8,"y":5},{"x":329.85,"y":10},{"x":329.9,"y":-10},{"x":329.95,"y":5},{"x":330,"y":-5},{"x":330.1,"y":-10},{"x":330.2,"y":5},{"x":330.3,"y":-15},{"x":330.4,"y":0},{"x":330.5,"y":-20},{"x":330.6,"y":-30},{"x":330.7,"y":-10},{"x":330.8,"y":5},{"x":330.9,"y":-15},{"x":331,"y":0},{"x":331.1,"y":10},{"x":331.2,"y":-5},{"x":331.3,"y":15},{"x":331.4,"y":30},{"x":331.5,"y":10},{"x":331.6,"y":0},{"x":331.7,"y":15},{"x":331.8,"y":-5},{"x":331.9,"y":10},{"x":332,"y":-10},{"x":332.1,"y":5},{"x":332.2,"y":-15},{"x":332.3,"y":0},{"x":332.4,"y":-20},{"x":332.5,"y":-5},{"x":332.6,"y":-25},{"x":332.7,"y":-10},{"x":332.8,"y":0},{"x":332.9,"y":-20},{"x":333,"y":-5},{"x":333.1,"y":-25},{"x":333.2,"y":-10},{"x":333.3,"y":5},{"x":333.4,"y":-15},{"x":333.5,"y":0},{"x":333.6,"y":15},{"x":333.7,"y":-10},{"x":333.8,"y":0},{"x":333.9,"y":-20},{"x":334,"y":-5},{"x":334.1,"y":-25},{"x":334.2,"y":-10},{"x":334.3,"y":-20},{"x":334.4,"y":0},{"x":334.5,"y":-15},{"x":334.6,"y":5},{"x":334.7,"y":20},{"x":334.8,"y":0},{"x":334.9,"y":10},{"x":335,"y":-15},{"x":335.1,"y":0},{"x":335.2,"y":-20},{"x":335.3,"y":-5},{"x":335.4,"y":10},{"x":335.5,"y":-10},{"x":335.6,"y":5},{"x":335.7,"y":-15},{"x":335.8,"y":0},{"x":335.9,"y":-10},{"x":336,"y":-15}]
},
"vconcat": [
 {"hconcat": [
  {"width": 204.5, "height": 242, "data": {"values": [{}]}, "mark": {"type": "text", "text": "a-TiO₂", "font": "DejaVu Sans", "fontSize": 32, "fontWeight": "bold", "align": "center", "baseline": "alphabetic", "dy": 12, "color": "#000000"}, "encoding": {}},
  {"width": 252, "height": 242, "layer": [
   {"data": {"values": [{}]}, "mark": {"type": "rect", "color": "#d3d8e1", "clip": false}, "encoding": {"x": {"datum": 314.2857, "type": "quantitative", "scale": {"domain": [318, 336], "nice": false, "zero": false}}, "x2": {"datum": 337.6071}, "y": {"datum": 1330.58, "type": "quantitative", "scale": {"domain": [-1000, 1000], "nice": false, "zero": false}}, "y2": {"datum": -1429.75}}},
   {"data": {"values": [{}]}, "mark": {"type": "rect", "color": "#3e6196", "clip": false}, "encoding": {"x": {"datum": 314.2857, "type": "quantitative"}, "x2": {"datum": 314.4643}, "y": {"datum": 1330.58, "type": "quantitative"}, "y2": {"datum": -1429.75}}},
   {"data": {"values": [{}]}, "mark": {"type": "rect", "color": "#3e6196", "clip": false}, "encoding": {"x": {"datum": 337.4286, "type": "quantitative"}, "x2": {"datum": 337.6071}, "y": {"datum": 1330.58, "type": "quantitative"}, "y2": {"datum": -1429.75}}},
   {"data": {"values": [{}]}, "mark": {"type": "rect", "color": "#3e6196", "clip": false}, "encoding": {"x": {"datum": 314.2857, "type": "quantitative"}, "x2": {"datum": 337.6071}, "y": {"datum": 1330.58, "type": "quantitative"}, "y2": {"datum": 1309.92}}},
   {"data": {"values": [{}]}, "mark": {"type": "rect", "filled": false, "color": "#808080", "strokeWidth": 1}, "encoding": {"x": {"datum": 318, "type": "quantitative"}, "x2": {"datum": 336}, "y": {"datum": -1000, "type": "quantitative"}, "y2": {"datum": 1000}}},
   {"data": {"name": "a1"}, "mark": {"type": "line", "color": "#000000", "strokeWidth": 1.4}, "encoding": {"x": {"field": "x", "type": "quantitative", "scale": {"domain": [318, 336], "nice": false, "zero": false}, "axis": {"zindex": 1, "labelOverlap": false, "tickCount": 10, "format": "d", "title": "mT", "labelColor": "#1a1a1a", "tickColor": "#808080", "titleColor": "#000000"}}, "y": {"field": "y", "type": "quantitative", "scale": {"domain": [-1000, 1000], "nice": false, "zero": false}, "axis": {"zindex": 1, "labelOverlap": false, "labelExpr": "'' + datum.value", "values": [-1000, -500, 0, 500, 1000], "title": "Signal (a.u.)", "labelColor": "#1a1a1a", "tickColor": "#808080", "titleColor": "#000000"}}}},
   {"data": {"values": [{}]}, "mark": {"type": "text", "text": "a", "font": "Liberation Sans", "fontSize": 38, "fontWeight": "bold", "align": "center", "baseline": "alphabetic", "color": "#000000"}, "encoding": {"x": {"datum": 325.9286, "type": "quantitative"}, "y": {"datum": 1028.93, "type": "quantitative"}}}
  ]},
  {"width": 252, "height": 242, "layer": [
   {"data": {"values": [{}]}, "mark": {"type": "rect", "color": "#ffcccc", "clip": false}, "encoding": {"x": {"datum": 314.3571, "type": "quantitative", "scale": {"domain": [318, 336], "nice": false, "zero": false}}, "x2": {"datum": 341}, "y": {"datum": 1330.58, "type": "quantitative", "scale": {"domain": [-1000, 1000], "nice": false, "zero": false}}, "y2": {"datum": -1429.75}}},
   {"data": {"values": [{}]}, "mark": {"type": "rect", "color": "#3e6196", "clip": false}, "encoding": {"x": {"datum": 314.3571, "type": "quantitative"}, "x2": {"datum": 314.5357}, "y": {"datum": 1330.58, "type": "quantitative"}, "y2": {"datum": -1429.75}}},
   {"data": {"values": [{}]}, "mark": {"type": "rect", "color": "#3e6196", "clip": false}, "encoding": {"x": {"datum": 314.3571, "type": "quantitative"}, "x2": {"datum": 341}, "y": {"datum": 1330.58, "type": "quantitative"}, "y2": {"datum": 1309.92}}},
   {"data": {"values": [{}]}, "mark": {"type": "rect", "filled": false, "color": "#6e3c3c", "strokeWidth": 1}, "encoding": {"x": {"datum": 318, "type": "quantitative"}, "x2": {"datum": 336}, "y": {"datum": -1000, "type": "quantitative"}, "y2": {"datum": 1000}}},
   {"data": {"name": "b1"}, "mark": {"type": "line", "color": "#2a0a0a", "strokeWidth": 1.4}, "encoding": {"x": {"field": "x", "type": "quantitative", "scale": {"domain": [318, 336], "nice": false, "zero": false}, "axis": {"zindex": 1, "labelOverlap": false, "tickCount": 10, "format": "d", "title": "mT", "labelColor": "#4a2828", "tickColor": "#7a4a4a", "titleColor": "#3a1010"}}, "y": {"field": "y", "type": "quantitative", "scale": {"domain": [-1000, 1000], "nice": false, "zero": false}, "axis": {"zindex": 1, "labelOverlap": false, "labelExpr": "'' + datum.value", "values": [-1000, -500, 0, 500, 1000], "title": "Signal (a.u.)", "labelColor": "#4a2828", "tickColor": "#7a4a4a", "titleColor": "#3a1010"}}}},
   {"data": {"values": [{}]}, "mark": {"type": "text", "text": "b", "font": "Liberation Sans", "fontSize": 38, "fontWeight": "bold", "align": "center", "baseline": "alphabetic", "color": "#3a0d0d"}, "encoding": {"x": {"datum": 326.5714, "type": "quantitative"}, "y": {"datum": 1028.93, "type": "quantitative"}}}
  ]}
 ], "spacing": 7.5},
 {"hconcat": [
  {"width": 204.5, "height": 242, "data": {"values": [{}]}, "mark": {"type": "text", "text": "H-TiO₂ 30", "font": "DejaVu Sans", "fontSize": 32, "fontWeight": "bold", "align": "center", "baseline": "alphabetic", "dx": 7, "dy": 5, "color": "#000000"}, "encoding": {}},
  {"width": 252, "height": 242, "layer": [
   {"data": {"values": [{}]}, "mark": {"type": "rect", "color": "#d3d8e1", "clip": false}, "encoding": {"x": {"datum": 314.2857, "type": "quantitative", "scale": {"domain": [318, 336], "nice": false, "zero": false}}, "x2": {"datum": 337.6071}, "y": {"datum": 1264.46, "type": "quantitative", "scale": {"domain": [-1000, 1000], "nice": false, "zero": false}}, "y2": {"datum": -1413.22}}},
   {"data": {"values": [{}]}, "mark": {"type": "rect", "color": "#3e6196", "clip": false}, "encoding": {"x": {"datum": 314.2857, "type": "quantitative"}, "x2": {"datum": 314.4643}, "y": {"datum": 1264.46, "type": "quantitative"}, "y2": {"datum": -1413.22}}},
   {"data": {"values": [{}]}, "mark": {"type": "rect", "color": "#3e6196", "clip": false}, "encoding": {"x": {"datum": 337.4286, "type": "quantitative"}, "x2": {"datum": 337.6071}, "y": {"datum": 1264.46, "type": "quantitative"}, "y2": {"datum": -1413.22}}},
   {"data": {"values": [{}]}, "mark": {"type": "rect", "filled": false, "color": "#808080", "strokeWidth": 1}, "encoding": {"x": {"datum": 318, "type": "quantitative"}, "x2": {"datum": 336}, "y": {"datum": -1000, "type": "quantitative"}, "y2": {"datum": 1000}}},
   {"data": {"name": "a2"}, "mark": {"type": "line", "color": "#000000", "strokeWidth": 1.4}, "encoding": {"x": {"field": "x", "type": "quantitative", "scale": {"domain": [318, 336], "nice": false, "zero": false}, "axis": {"zindex": 1, "labelOverlap": false, "tickCount": 10, "format": "d", "title": "mT", "labelColor": "#1a1a1a", "tickColor": "#808080", "titleColor": "#000000"}}, "y": {"field": "y", "type": "quantitative", "scale": {"domain": [-1000, 1000], "nice": false, "zero": false}, "axis": {"zindex": 1, "labelOverlap": false, "labelExpr": "'' + datum.value", "values": [-1000, -500, 0, 500, 1000], "title": "Signal (a.u.)", "labelColor": "#1a1a1a", "tickColor": "#808080", "titleColor": "#000000"}}}}
  ]},
  {"width": 252, "height": 242, "layer": [
   {"data": {"values": [{}]}, "mark": {"type": "rect", "color": "#ffcccc", "clip": false}, "encoding": {"x": {"datum": 314.3571, "type": "quantitative", "scale": {"domain": [318, 336], "nice": false, "zero": false}}, "x2": {"datum": 341}, "y": {"datum": 1264.46, "type": "quantitative", "scale": {"domain": [-1000, 1000], "nice": false, "zero": false}}, "y2": {"datum": -1413.22}}},
   {"data": {"values": [{}]}, "mark": {"type": "rect", "color": "#3e6196", "clip": false}, "encoding": {"x": {"datum": 314.3571, "type": "quantitative"}, "x2": {"datum": 314.5357}, "y": {"datum": 1264.46, "type": "quantitative"}, "y2": {"datum": -1413.22}}},
   {"data": {"values": [{}]}, "mark": {"type": "rect", "filled": false, "color": "#6e3c3c", "strokeWidth": 1}, "encoding": {"x": {"datum": 318, "type": "quantitative"}, "x2": {"datum": 336}, "y": {"datum": -1000, "type": "quantitative"}, "y2": {"datum": 1000}}},
   {"data": {"name": "b2"}, "mark": {"type": "line", "color": "#2a0a0a", "strokeWidth": 1.4}, "encoding": {"x": {"field": "x", "type": "quantitative", "scale": {"domain": [318, 336], "nice": false, "zero": false}, "axis": {"zindex": 1, "labelOverlap": false, "tickCount": 10, "format": "d", "title": "mT", "labelColor": "#4a2828", "tickColor": "#7a4a4a", "titleColor": "#3a1010"}}, "y": {"field": "y", "type": "quantitative", "scale": {"domain": [-1000, 1000], "nice": false, "zero": false}, "axis": {"zindex": 1, "labelOverlap": false, "labelExpr": "'' + datum.value", "values": [-1000, -500, 0, 500, 1000], "title": "Signal (a.u.)", "labelColor": "#4a2828", "tickColor": "#7a4a4a", "titleColor": "#3a1010"}}}}
  ]}
 ], "spacing": 7.5},
 {"hconcat": [
  {"width": 204.5, "height": 242, "data": {"values": [{}]}, "mark": {"type": "text", "text": "H-TiO₂ 120", "font": "DejaVu Sans", "fontSize": 32, "fontWeight": "bold", "align": "center", "baseline": "alphabetic", "dx": 6, "dy": 8, "color": "#000000"}, "encoding": {}},
  {"width": 252, "height": 242, "layer": [
   {"data": {"values": [{}]}, "mark": {"type": "rect", "color": "#d3d8e1", "clip": false}, "encoding": {"x": {"datum": 314.2857, "type": "quantitative", "scale": {"domain": [318, 336], "nice": false, "zero": false}}, "x2": {"datum": 337.6071}, "y": {"datum": 1148.76, "type": "quantitative", "scale": {"domain": [-1000, 1000], "nice": false, "zero": false}}, "y2": {"datum": -1479.34}}},
   {"data": {"values": [{}]}, "mark": {"type": "rect", "color": "#3e6196", "clip": false}, "encoding": {"x": {"datum": 314.2857, "type": "quantitative"}, "x2": {"datum": 314.4643}, "y": {"datum": 1148.76, "type": "quantitative"}, "y2": {"datum": -1479.34}}},
   {"data": {"values": [{}]}, "mark": {"type": "rect", "color": "#3e6196", "clip": false}, "encoding": {"x": {"datum": 337.4286, "type": "quantitative"}, "x2": {"datum": 337.6071}, "y": {"datum": 1148.76, "type": "quantitative"}, "y2": {"datum": -1479.34}}},
   {"data": {"values": [{}]}, "mark": {"type": "rect", "filled": false, "color": "#808080", "strokeWidth": 1}, "encoding": {"x": {"datum": 318, "type": "quantitative"}, "x2": {"datum": 336}, "y": {"datum": -1000, "type": "quantitative"}, "y2": {"datum": 1000}}},
   {"data": {"name": "a3"}, "mark": {"type": "line", "color": "#000000", "strokeWidth": 1.4}, "encoding": {"x": {"field": "x", "type": "quantitative", "scale": {"domain": [318, 336], "nice": false, "zero": false}, "axis": {"zindex": 1, "labelOverlap": false, "tickCount": 10, "format": "d", "title": "mT", "labelColor": "#1a1a1a", "tickColor": "#808080", "titleColor": "#000000"}}, "y": {"field": "y", "type": "quantitative", "scale": {"domain": [-1000, 1000], "nice": false, "zero": false}, "axis": {"zindex": 1, "labelOverlap": false, "labelExpr": "'' + datum.value", "values": [-1000, -500, 0, 500, 1000], "title": "Signal (a.u.)", "labelColor": "#1a1a1a", "tickColor": "#808080", "titleColor": "#000000"}}}}
  ]},
  {"width": 252, "height": 242, "layer": [
   {"data": {"values": [{}]}, "mark": {"type": "rect", "color": "#ffcccc", "clip": false}, "encoding": {"x": {"datum": 314.3571, "type": "quantitative", "scale": {"domain": [318, 336], "nice": false, "zero": false}}, "x2": {"datum": 341}, "y": {"datum": 1148.76, "type": "quantitative", "scale": {"domain": [-1000, 1000], "nice": false, "zero": false}}, "y2": {"datum": -1479.34}}},
   {"data": {"values": [{}]}, "mark": {"type": "rect", "color": "#3e6196", "clip": false}, "encoding": {"x": {"datum": 314.3571, "type": "quantitative"}, "x2": {"datum": 314.5357}, "y": {"datum": 1148.76, "type": "quantitative"}, "y2": {"datum": -1479.34}}},
   {"data": {"values": [{}]}, "mark": {"type": "rect", "filled": false, "color": "#6e3c3c", "strokeWidth": 1}, "encoding": {"x": {"datum": 318, "type": "quantitative"}, "x2": {"datum": 336}, "y": {"datum": -1000, "type": "quantitative"}, "y2": {"datum": 1000}}},
   {"data": {"name": "b3"}, "mark": {"type": "line", "color": "#2a0a0a", "strokeWidth": 1.4}, "encoding": {"x": {"field": "x", "type": "quantitative", "scale": {"domain": [318, 336], "nice": false, "zero": false}, "axis": {"zindex": 1, "labelOverlap": false, "tickCount": 10, "format": "d", "title": "mT", "labelColor": "#4a2828", "tickColor": "#7a4a4a", "titleColor": "#3a1010"}}, "y": {"field": "y", "type": "quantitative", "scale": {"domain": [-1000, 1000], "nice": false, "zero": false}, "axis": {"zindex": 1, "labelOverlap": false, "labelExpr": "'' + datum.value", "values": [-1000, -500, 0, 500, 1000], "title": "Signal (a.u.)", "labelColor": "#4a2828", "tickColor": "#7a4a4a", "titleColor": "#3a1010"}}}}
  ]}
 ], "spacing": 7.5}
],
"spacing": -1
}
